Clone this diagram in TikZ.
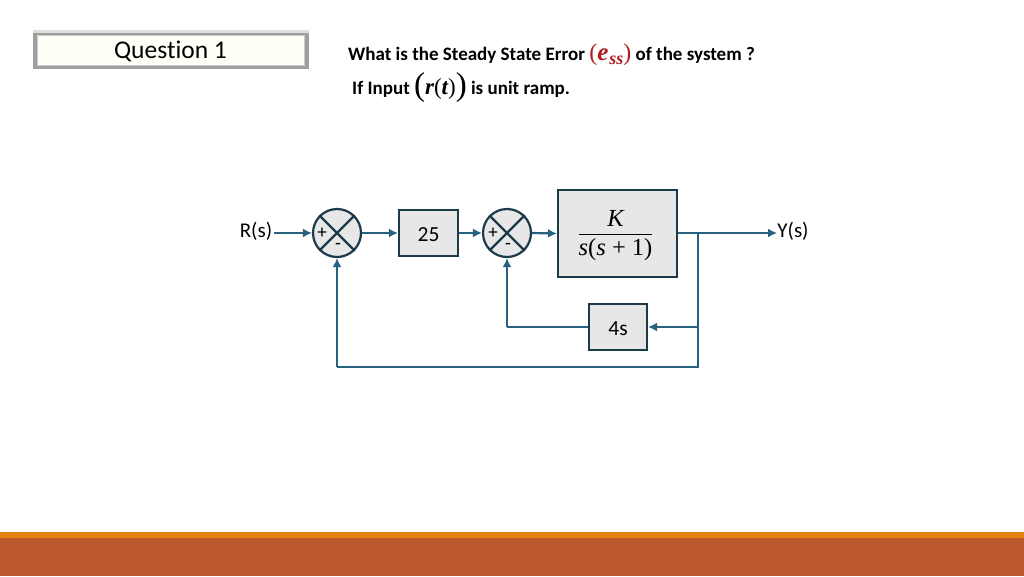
\documentclass[tikz,border=0pt]{standalone}
\usepackage{amsmath}
\usepackage{fontspec}
\setmainfont[Ligatures=NoCommon]{Carlito}
\newfontfamily\mathserif{Liberation Serif}
\usetikzlibrary{arrows.meta}
\definecolor{wire}{HTML}{27617F}
\definecolor{edge}{HTML}{1B3B4B}
\definecolor{fillgray}{HTML}{E7E7E7}
\definecolor{errred}{HTML}{B01C1C}
\newcommand{\mvar}[1]{{\mathserif\itshape #1}}
\newcommand{\mbvar}[1]{{\mathserif\bfseries\itshape #1}}
\newcommand{\mup}[1]{{\mathserif\upshape\mdseries #1}}
\newcommand{\fsz}[1]{\fontsize{#1}{#1}\selectfont}
\newcommand{\lowered}[2]{\raisebox{-#1}[\height][\depth]{#2}}
\tikzset{
  x=1pt,y=-1pt,
  blockbox/.style={draw=edge,line width=2.2pt,fill=fillgray,inner sep=0pt,font=\fontsize{21.5}{24}\selectfont},
  sumnode/.style={circle,draw=edge,line width=2.2pt,fill=fillgray,minimum size=48pt,inner sep=0pt},
  wireline/.style={draw=wire,line width=2.2pt},
  sig/.style={wireline,-{Latex[length=9pt,width=9pt]}},
  lbl/.style={inner sep=0pt,font=\fontsize{21}{24}\selectfont},
  signlbl/.style={inner sep=0pt,font=\fontsize{19}{20}\selectfont},
  ques/.style={inner sep=0pt,font=\bfseries\fontsize{19}{22}\selectfont,anchor=west}
}
\begin{document}
\begin{tikzpicture}
\useasboundingbox (0,0) rectangle (1024,576);
\fill[white] (0,0) rectangle (1024,576);
% footer
\fill[fill={rgb,255:red,228;green,131;blue,18}] (0,532) rectangle (1024,538);
\fill[fill={rgb,255:red,189;green,88;blue,44}] (0,538) rectangle (1024,576);
% question box
\fill[gray!75] (33,30) rectangle (309,69);
\fill[gray!25] (33,30) rectangle (309,33);
\node[draw=gray!40,line width=0.8pt,fill={rgb,255:red,255;green,255;blue,247},minimum width=267pt,minimum height=30pt,inner sep=0pt] (q) at (170.5,50) {};
\node[inner sep=0pt,font=\fontsize{25.5}{28}\selectfont] (qt) at (170.5,51.5) {Question 1};
% question text
\node[ques] (t1) at (348,55) {What is the Steady State Error \textcolor{errred}{\mup{\fsz{24}(}\mbvar{\fsz{25}e}\hspace{1pt}\raisebox{-3.5pt}{\mbvar{\fsz{18}ss}}\mup{\fsz{24})}} of the system ?};
\node[ques] (t2) at (352,88) {If Input \raisebox{-1.5pt}{\mup{\fsz{33}(}}\mbvar{\fsz{23}r}\mup{\fsz{23}(}\mbvar{\fsz{23}t}\mup{\fsz{23})}\raisebox{-1.5pt}{\mup{\fsz{33})}} is unit ramp.};
% blocks
\node[sumnode] (s1) at (337,233) {};
\node[sumnode] (s2) at (507,233) {};
\foreach \n in {s1,s2}{
  \draw[edge,line width=2.2pt] (\n.45) -- (\n.225);
  \draw[edge,line width=2.2pt] (\n.135) -- (\n.315);
}
\node[signlbl] (p1) at (322,233) {+};
\node[signlbl] (m1) at (338,246) {-};
\node[signlbl] (p2) at (493,233) {+};
\node[signlbl] (m2) at (508,246) {-};
\node[blockbox,minimum width=59pt,minimum height=46pt] (b25) at (428.5,233) {\lowered{1.5pt}{25}};
\node[blockbox,minimum width=119pt,minimum height=87pt] (bk) at (617.5,233.5) {\lowered{2pt}{\hspace{-4pt}$\genfrac{}{}{1.1pt}{0}{\hbox{\fsz{24.5}\mvar{K}}}{\hbox{\fsz{24.5}\mvar{s}\mup{(}\mvar{s}\mup{ + 1)}}}$}};
\node[blockbox,minimum width=58pt,minimum height=46pt] (b4) at (618,327) {\lowered{1.5pt}{4s}};
\node[lbl] (r) at (256,231) {R(s)};
\node[lbl] (y) at (793,231) {Y(s)};
\coordinate (j) at (698,233);
\coordinate (j4) at (698,327);
\coordinate (jb) at (698,367);
\coordinate (fb) at (337,367);
\coordinate (f4) at (507,327);
\coordinate (rin) at (274,233);
\coordinate (yout) at (777,233);
% connectors
\draw[sig] (rin) -- (s1.west);
\draw[sig] (s1.east) -- (b25.west);
\draw[sig] (b25.east) -- (s2.west);
\draw[sig] (s2.east) -- (bk.west);
\draw[sig] (bk.east |- j) -- (yout);
\draw[wireline] (j) -- (jb) -- (fb);
\draw[sig] (fb) -- (s1.south);
\draw[sig] (j4) -- (b4.east);
\draw[wireline] (b4.west) -- (f4);
\draw[sig] (f4) -- (s2.south);
\end{tikzpicture}
\end{document}
